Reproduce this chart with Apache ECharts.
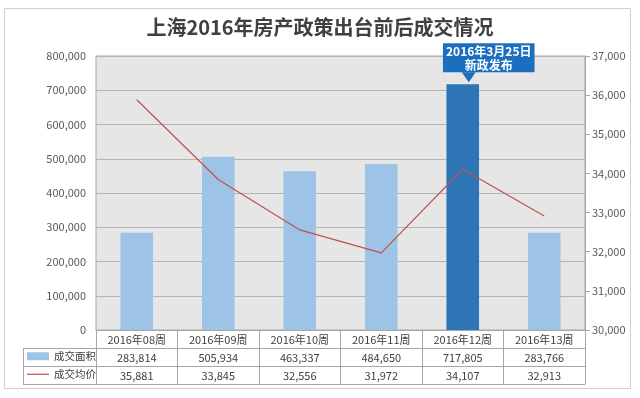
<!DOCTYPE html>
<html><head><meta charset="utf-8">
<script src="https://cdn.jsdelivr.net/npm/echarts@6/dist/echarts.min.js"></script>
<style>html,body{margin:0;padding:0;background:#fff}#c{width:640px;height:398px}</style>
</head><body><div id="c"></div>
<script>
const titleText = '上海2016年房产政策出台前后成交情况';
const weeks = ['2016年08周','2016年09周','2016年10周','2016年11周','2016年12周','2016年13周'];
const areaName = '成交面积';
const priceName = '成交均价';
const areaValues = [283814, 505934, 463337, 484650, 717805, 283766];
const priceValues = [35881, 33845, 32556, 31972, 34107, 32913];
const leftAxis = {min: 0, max: 800000, interval: 100000};
const rightAxis = {min: 30000, max: 37000, interval: 1000};
const highlightIndex = 4;
const annotationLines = ['2016年3月25日', '新政发布'];

const fmt = v => Number(v).toLocaleString('en-US');
const FONT = '"Noto Sans CJK SC", "Noto Sans", sans-serif';
const lineCol = '#A6A6A6';
const textCol = '#404040';
const blue = '#1C6FBF';

const chart = echarts.init(document.getElementById('c'));

function tableAxis(data, offset, showLabel, showTick) {
  return {
    type: 'category', gridIndex: 0, position: 'bottom', offset: offset,
    data: data,
    axisLine: {show: true, lineStyle: {color: lineCol, width: 1}},
    axisTick: {show: showTick, length: 18, alignWithLabel: false, interval: 0, lineStyle: {color: lineCol}},
    axisLabel: {show: showLabel, interval: 0, margin: 4, fontSize: 11, color: textCol, fontFamily: FONT},
    splitLine: {show: false}
  };
}

const barData = areaValues.map((v, i) => {
  if (i !== highlightIndex) return v;
  return {
    value: v,
    itemStyle: {color: '#2E75B6'},
    label: {
      show: true, position: 'top', distance: 12, offset: [26, 0],
      formatter: annotationLines.join('\n'),
      color: '#fff', fontWeight: 'bold', fontSize: 12, lineHeight: 14,
      fontFamily: FONT, align: 'center',
      backgroundColor: blue, padding: [1, 3, 0, 3]
    }
  };
});

chart.setOption({
  animation: false,
  backgroundColor: '#fff',
  title: {
    text: titleText, left: 'center', top: 12,
    textStyle: {fontSize: 20, fontWeight: 'bold', color: textCol, fontFamily: FONT}
  },
  legend: [
    {data: [{name: areaName, icon: 'rect'}], left: 27, top: 351, padding: 0, itemWidth: 22, itemHeight: 8, itemGap: 4,
     textStyle: {fontSize: 10.5, color: textCol, fontFamily: FONT}},
    {data: [{name: priceName, icon: 'path://M0,0 L30,0 L30,1 L0,1 Z'}], left: 27, top: 369, padding: 0,
     itemWidth: 22, itemHeight: 1.2, itemGap: 4, symbolKeepAspect: false,
     itemStyle: {color: '#C0504D', borderWidth: 0},
     textStyle: {fontSize: 10.5, color: textCol, fontFamily: FONT}}
  ],
  grid: {left: 96, right: 55, top: 56, bottom: 68, show: true,
         backgroundColor: '#E6E6E6', borderColor: lineCol, borderWidth: 1},
  xAxis: [
    tableAxis(weeks, 0, true, true),
    tableAxis(areaValues.map(fmt), 18, true, true),
    tableAxis(priceValues.map(fmt), 36, true, true),
    tableAxis(weeks, 54, false, false)
  ],
  yAxis: [
    {type: 'value', min: leftAxis.min, max: leftAxis.max, interval: leftAxis.interval,
     axisLine: {show: false}, axisTick: {show: false},
     splitLine: {show: true, lineStyle: {color: '#B3B3B3', width: 1}},
     axisLabel: {formatter: fmt, fontSize: 11, color: '#595959', margin: 10, fontFamily: FONT}},
    {type: 'value', position: 'right', min: rightAxis.min, max: rightAxis.max, interval: rightAxis.interval,
     axisLine: {show: true, lineStyle: {color: lineCol}},
     axisTick: {show: true, length: 5, lineStyle: {color: lineCol}},
     splitLine: {show: false},
     axisLabel: {formatter: fmt, fontSize: 11, color: '#595959', margin: 7, fontFamily: FONT}}
  ],
  series: [
    {name: areaName, type: 'bar', xAxisIndex: 0, yAxisIndex: 0, barWidth: '40%',
     itemStyle: {color: '#9DC3E6'}, data: barData,
     markPoint: {
       symbol: 'triangle', symbolRotate: 180, symbolSize: [14, 10], symbolOffset: [6, -7],
       itemStyle: {color: blue}, label: {show: false}, silent: true,
       data: [{coord: [highlightIndex, areaValues[highlightIndex]]}]
     }},
    {name: priceName, type: 'line', xAxisIndex: 0, yAxisIndex: 1, symbol: 'none',
     itemStyle: {color: '#C0504D'}, lineStyle: {color: '#C0504D', width: 1.2}, data: priceValues}
  ],
  graphic: [
    {type: 'rect', shape: {x: 4.5, y: 8.5, width: 626, height: 380}, style: {fill: 'none', stroke: '#D0D0D0', lineWidth: 1}, silent: true},
    {type: 'line', shape: {x1: 23, y1: 348.5, x2: 96, y2: 348.5}, style: {stroke: lineCol, lineWidth: 1}},
    {type: 'line', shape: {x1: 23, y1: 366.5, x2: 96, y2: 366.5}, style: {stroke: lineCol, lineWidth: 1}},
    {type: 'line', shape: {x1: 23, y1: 384.5, x2: 96, y2: 384.5}, style: {stroke: lineCol, lineWidth: 1}},
    {type: 'line', shape: {x1: 23.5, y1: 348, x2: 23.5, y2: 385}, style: {stroke: lineCol, lineWidth: 1}}
  ]
});
</script>
</body></html>
